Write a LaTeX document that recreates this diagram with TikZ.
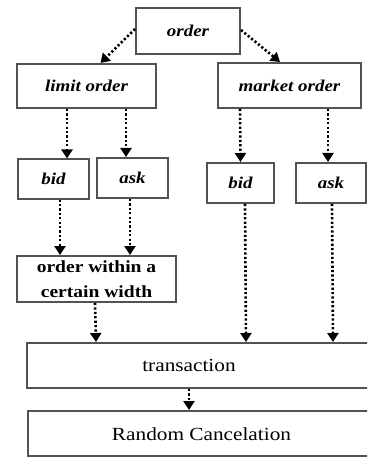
\documentclass[tikz,border=0pt]{standalone}
\usepackage{fontspec}
\setmainfont{Liberation Serif}[FakeStretch=1.15]
\usetikzlibrary{arrows.meta}

\begin{document}
\begin{tikzpicture}[x=1pt,y=-1pt,
  box/.style={draw=black!68, line width=2pt, fill=white, inner sep=0pt},
  itbox/.style={box, font=\fontsize{16.5}{19}\selectfont\bfseries\itshape},
  flow/.style={line width=2.6pt, dash pattern=on 2.2pt off 2.2pt,
    -{Triangle[width=11pt,length=9pt]}}]
  \useasboundingbox (0,0) rectangle (367,457);
  \clip (0,0) rectangle (367,457);

  % Top level
  \node[itbox, minimum width=104pt, minimum height=46pt] (order) at (188,31) {order};
  \node[itbox, minimum width=139pt, minimum height=44pt] (limit) at (86.5,86) {limit order};
  \node[itbox, minimum width=143pt, minimum height=45pt] (market) at (289.5,85.5) {market order};

  % bid and ask boxes
  \node[itbox, minimum width=71pt, minimum height=39pt] (bidL) at (53.5,179) {bid};
  \node[itbox, minimum width=71pt, minimum height=40pt] (askL) at (132.5,178) {ask};
  \node[itbox, minimum width=67pt, minimum height=40pt] (bidR) at (240.5,183) {bid};
  \node[itbox, minimum width=70pt, minimum height=40pt] (askR) at (331,183) {ask};

  % Lower boxes
  \node[box, minimum width=159pt, minimum height=46pt, align=center,
    font=\fontsize{17}{24.5}\selectfont\bfseries] (within) at (96.5,279)
    {order within a\\certain width};
  \node[box, minimum width=354pt, minimum height=45pt, anchor=west,
    label={[xshift=-15pt, font=\fontsize{18.5}{20}\selectfont]center:transaction}] (trans) at (26,365.5) {};
  \node[box, minimum width=353pt, minimum height=45pt, anchor=west,
    label={[xshift=-3pt, yshift=-1pt, font=\fontsize{18.5}{20}\selectfont]center:Random Cancelation}] (random) at (27,433.5) {};

  % Arrows from order
  \draw[flow] ([yshift=2pt]order.west) -- ([xshift=14pt]limit.north);
  \draw[flow] ([yshift=1pt]order.east) -- ([xshift=-9.5pt]market.north);

  % Arrows into bid and ask
  \draw[flow] ([xshift=-19.5pt]limit.south) -- ([xshift=13.5pt]bidL.north);
  \draw[flow] ([xshift=39.5pt]limit.south) -- ([xshift=-6.5pt]askL.north);
  \draw[flow] ([xshift=-49.5pt]market.south) -- (bidR.north);
  \draw[flow] ([xshift=38.5pt]market.south) -- ([xshift=-3pt]askR.north);

  % Arrows down to the lower boxes
  \draw[flow] ([xshift=6.5pt]bidL.south) -- ([xshift=-36.5pt]within.north);
  \draw[flow] ([xshift=-2.5pt]askL.south) -- ([xshift=33.5pt]within.north);
  \draw[flow] ([xshift=-1.5pt]within.south) -- ([xshift=-108pt]trans.north);
  \draw[flow] ([xshift=4.5pt]bidR.south) -- ([xshift=42pt]trans.north);
  \draw[flow] ([xshift=1pt]askR.south) -- ([xshift=129pt]trans.north);
  \draw[flow] ([xshift=-15pt]trans.south) -- ([xshift=-15.5pt]random.north);
\end{tikzpicture}
\end{document}
